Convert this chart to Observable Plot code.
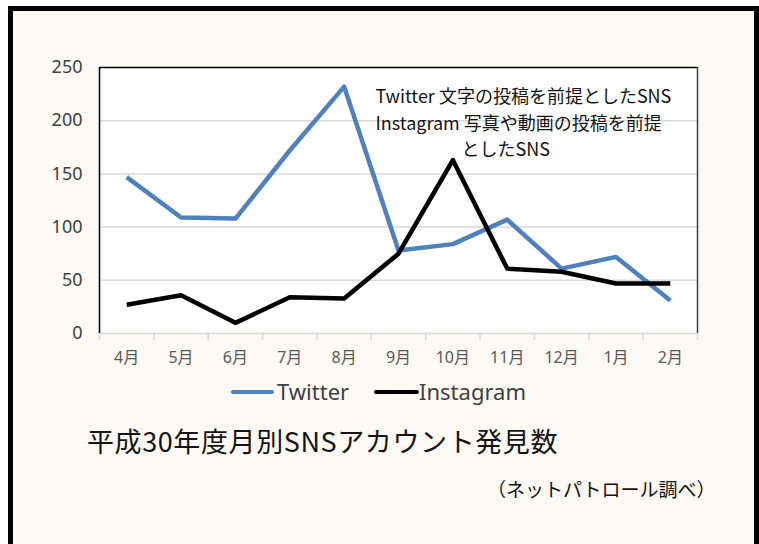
<!DOCTYPE html>
<html>
<head>
<meta charset="utf-8">
<script src="https://cdn.jsdelivr.net/npm/d3@7"></script>
<script src="https://cdn.jsdelivr.net/npm/@observablehq/plot@0.6"></script>
<style>
  html, body { margin: 0; padding: 0; }
  body { width: 759px; height: 544px; overflow: hidden; background: #ffffff; position: relative;
         font-family: "Noto Sans CJK JP", "Noto Sans", sans-serif; }
  #frame { position: absolute; left: 8px; top: 6px; width: 751px; height: 620px; box-sizing: border-box;
           border: 5px solid #000; border-bottom: none; background: #fdf9f5; }
  #chart { position: absolute; left: 0; top: 0; }
  .leg { position: absolute; font-family: "Noto Sans", sans-serif; font-size: 22px; line-height: 22px; color: #404040; }
  .sw { position: absolute; height: 4px; border-radius: 2px; }
  #title { position: absolute; left: 87px; top: 427px; font-size: 27px; line-height: 27px; letter-spacing: 0.6px; color: #141414; white-space: nowrap; }
  #caption { position: absolute; left: 487px; top: 478px; font-size: 19px; line-height: 22px; color: #141414; white-space: nowrap; }
</style>
</head>
<body>
<div id="frame"></div>
<div id="chart"></div>
<div class="sw" id="sw0"></div><div class="leg" id="lg0"></div>
<div class="sw" id="sw1"></div><div class="leg" id="lg1"></div>
<div id="title"></div>
<div id="caption"></div>
<script>
const months = ["4月","5月","6月","7月","8月","9月","10月","11月","12月","1月","2月"];
const twitter = [147,109,108,172,232,78,84,107,61,72,31];
const instagram = [27,36,10,34,33,75,163,61,58,47,47];
const seriesNames = ["Twitter","Instagram"];
const seriesColors = ["#4f81bd","#000000"];
const yTicks = [0,50,100,150,200,250];
const noteLines = ["Twitter 文字の投稿を前提としたSNS","Instagram 写真や動画の投稿を前提","としたSNS"];
const titleText = "平成30年度月別SNSアカウント発見数";
const captionText = "（ネットパトロール調べ）";

const data = [];
months.forEach((m, i) => {
  data.push({i, month: m, series: seriesNames[0], value: twitter[i]});
  data.push({i, month: m, series: seriesNames[1], value: instagram[i]});
});
const idx = months.map((m, i) => i);
const bounds = d3.range(months.length + 1).map(i => i - 0.5);
const yMax = yTicks[yTicks.length - 1];

const noteStyle = {frameAnchor: "top-left", textAnchor: "start", lineAnchor: "middle", fontSize: 18, fill: "#141414", fontFamily: "'Noto Sans CJK JP', sans-serif"};
const W = 759, H = 380;
const chart = Plot.plot({
  width: W, height: H,
  marginLeft: 99, marginRight: 62, marginTop: 67, marginBottom: H - 333,
  style: {background: "transparent", fontFamily: "'Noto Sans', 'Noto Sans CJK JP', sans-serif", overflow: "visible"},
  x: {type: "linear", domain: [bounds[0], bounds[bounds.length - 1]], label: null},
  y: {domain: [0, yMax], label: null},
  color: {domain: seriesNames, range: seriesColors},
  marks: [
    Plot.frame({fill: "white", stroke: "none"}),
    Plot.gridY({ticks: yTicks.filter(t => t > 0 && t < yMax), stroke: "#d9d9d9", strokeOpacity: 1, strokeWidth: 1.5}),
    Plot.ruleY([0], {stroke: "#d9d9d9", strokeWidth: 1.5}),
    Plot.axisX({ticks: bounds, tickSize: 7, tickFormat: () => "", stroke: "#d9d9d9", strokeWidth: 1.5, label: null}),
    Plot.axisX({ticks: idx, tickSize: 0, tickPadding: 18, tickFormat: i => months[i], fontSize: 16, color: "#595959", label: null}),
    Plot.axisY({ticks: yTicks, tickSize: 0, tickPadding: 17, fontSize: 18, color: "#404040", label: null}),
    Plot.ruleX([bounds[0]], {stroke: "#000", strokeWidth: 1.5}),
    Plot.ruleY([yMax], {stroke: "#000", strokeWidth: 1.5}),
    Plot.ruleX([bounds[bounds.length - 1]], {stroke: "#404040", strokeWidth: 1.5}),
    Plot.line(data, {x: "i", y: "value", z: "series", stroke: "series", strokeWidth: 4.5, strokeLinejoin: "round", strokeLinecap: "butt"}),
    Plot.text([noteLines[0]], {...noteStyle, text: d => d, dx: 276, dy: 30}),
    Plot.text([noteLines[1]], {...noteStyle, text: d => d, dx: 276, dy: 56.3}),
    Plot.text([noteLines[2]], {...noteStyle, text: d => d, dx: 362, dy: 82.6})
  ]
});
document.getElementById("chart").appendChild(chart);

// legend
const legPos = [{sw: 231, swW: 43, tx: 277}, {sw: 374, swW: 45, tx: 419}];
seriesNames.forEach((s, k) => {
  const sw = document.getElementById("sw" + k);
  sw.style.left = legPos[k].sw + "px"; sw.style.width = legPos[k].swW + "px"; sw.style.top = "390px";
  sw.style.background = seriesColors[k];
  const lg = document.getElementById("lg" + k);
  lg.textContent = s; lg.style.left = legPos[k].tx + "px"; lg.style.top = "380px";
});
document.getElementById("title").textContent = titleText;
document.getElementById("caption").textContent = captionText;
</script>
</body>
</html>
